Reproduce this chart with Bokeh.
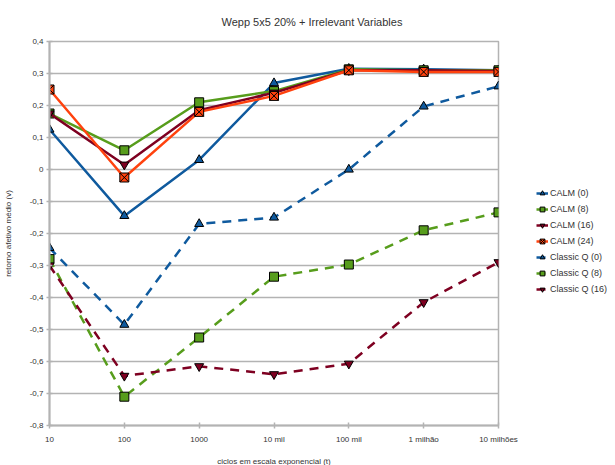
from bokeh.plotting import figure
from bokeh.models import (Range1d, FixedTicker, CustomJSTickFormatter, Legend,
                          LegendItem)
from bokeh.embed import file_html
from bokeh.resources import INLINE

x_labels = ["10", "100", "1000", "10 mil", "100 mil", "1 milhão", "10 milhões"]
y_ticks = [-0.8, -0.7, -0.6, -0.5, -0.4, -0.3, -0.2, -0.1, 0.0, 0.1, 0.2, 0.3, 0.4]

calm_0 = [0.125, -0.145, 0.03, 0.27, 0.315, 0.313, 0.31]
calm_8 = [0.175, 0.06, 0.21, 0.245, 0.313, 0.31, 0.31]
calm_16 = [0.175, 0.015, 0.185, 0.24, 0.31, 0.31, 0.308]
calm_24 = [0.25, -0.025, 0.18, 0.23, 0.31, 0.305, 0.305]
classic_0 = [-0.245, -0.485, -0.17, -0.15, 0.0, 0.197, 0.26]
classic_8 = [-0.28, -0.71, -0.525, -0.335, -0.297, -0.19, -0.134]
classic_16 = [-0.3, -0.645, -0.615, -0.64, -0.607, -0.415, -0.29]

names = ["CALM (0)", "CALM (8)", "CALM (16)", "CALM (24)",
         "Classic Q (0)", "Classic Q (8)", "Classic Q (16)"]

BLUE = "#0f5a9e"
GREEN = "#579d1c"
MAROON = "#7e0021"
ORANGE = "#ff420e"

series = [
    (names[0], calm_0, BLUE, "triangle", "solid"),
    (names[1], calm_8, GREEN, "square", "solid"),
    (names[2], calm_16, MAROON, "inverted_triangle", "solid"),
    (names[3], calm_24, ORANGE, "square_x", "solid"),
    (names[4], classic_0, BLUE, "triangle", "9 7"),
    (names[5], classic_8, GREEN, "square", "9 7"),
    (names[6], classic_16, MAROON, "inverted_triangle", "9 7"),
]

xs = list(range(len(x_labels)))

p = figure(frame_width=449, frame_height=384, output_backend="svg",
           toolbar_location=None,
           x_range=Range1d(0, len(x_labels) - 1), y_range=Range1d(-0.8, 0.4),
           min_border_left=48, min_border_right=118, min_border_top=41,
           min_border_bottom=40)

FONT = "Liberation Sans"
TXT = "#333333"

p.title.text = "Wepp 5x5 20% + Irrelevant Variables"
p.title.align = "left"
p.title.offset = 172
p.title.text_font = FONT
p.title.text_font_size = "11px"
p.title.text_font_style = "normal"
p.title.text_color = TXT
p.title.standoff = 27

p.outline_line_color = "#b3b3b3"
p.outline_line_width = 1.5
p.background_fill_color = "white"
p.border_fill_color = "white"

p.xgrid.visible = False
p.ygrid.grid_line_color = "#b3b3b3"
p.ygrid.grid_line_width = 1.5

p.xaxis.ticker = FixedTicker(ticks=xs)
p.xaxis.major_label_overrides = {i: lab for i, lab in enumerate(x_labels)}
p.yaxis.ticker = FixedTicker(ticks=y_ticks)
p.yaxis.formatter = CustomJSTickFormatter(code="""
if (Math.abs(tick) < 1e-9) { return '0'; }
return tick.toFixed(1).replace('.', ',');
""")
p.xaxis.minor_tick_line_color = None
p.yaxis.minor_tick_line_color = None

for ax in (p.xaxis[0], p.yaxis[0]):
    ax.axis_line_color = "#b3b3b3"
    ax.axis_line_width = 2
    ax.major_tick_line_color = "#b3b3b3"
    ax.major_tick_line_width = 1.5
    ax.major_tick_in = 3
    ax.major_tick_out = 3
    ax.major_label_text_font = FONT
    ax.major_label_text_font_size = "8px"
    ax.major_label_text_color = TXT
    ax.axis_label_text_font = FONT
    ax.axis_label_text_font_size = "8px"
    ax.axis_label_text_font_style = "normal"
    ax.axis_label_text_color = TXT

p.xaxis.axis_label = "ciclos em escala exponencial (t)"
p.yaxis.axis_label = "retorno afetivo médio (v)"
p.xaxis.major_label_standoff = 6
p.yaxis.major_label_standoff = 3
p.xaxis.axis_label_standoff = 10
p.yaxis.axis_label_standoff = 14

items = []
for name, ys, color, marker, dash in series:
    r1 = p.line(xs, ys, line_color=color, line_width=2.5, line_dash=dash)
    r2 = p.scatter(xs, ys, marker=marker, size=9, fill_color=color,
                   line_color="black", line_width=1)
    items.append(LegendItem(label=name, renderers=[r1, r2]))

legend = Legend(items=items, location=(38, 128))
legend.label_text_font = FONT
legend.label_text_font_size = "9px"
legend.label_text_color = TXT
legend.glyph_width = 12
legend.glyph_height = 16
legend.label_height = 16
legend.label_standoff = 2
legend.spacing = 0
legend.padding = 0
legend.margin = 0
legend.border_line_color = None
legend.background_fill_alpha = 0
p.add_layout(legend, "right")

open("out.html", "w").write(file_html(p, INLINE))
